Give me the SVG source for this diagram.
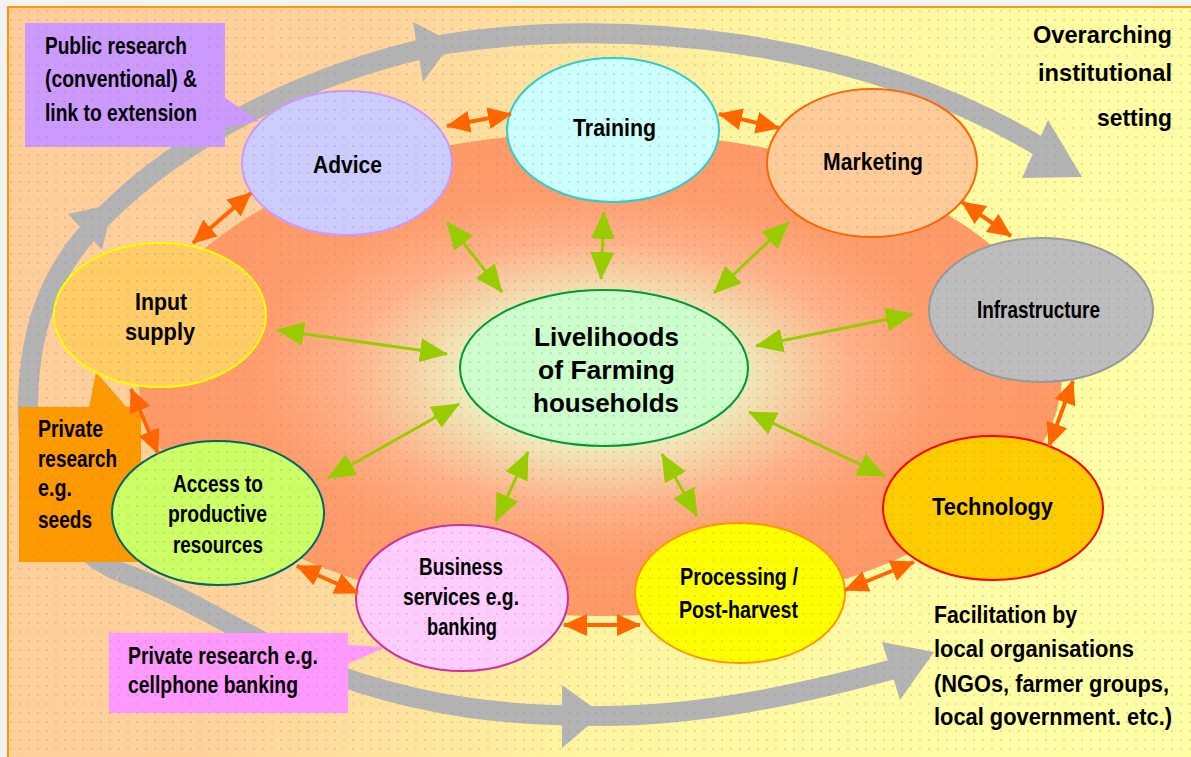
<svg xmlns="http://www.w3.org/2000/svg" width="1191" height="757" viewBox="0 0 1191 757">
<style>
.t{font-family:"Liberation Sans Narrow","Liberation Sans",Arial,sans-serif;font-weight:bold;font-size:24px;fill:#000;}
.m{text-anchor:middle;}
.e{text-anchor:end;}
.c{font-size:26px;}
.s{font-size:23px;}
.band{fill:none;stroke:#b3b3b3;stroke-width:20;}
.bhead{fill:#b3b3b3;}
.ga{stroke:#99cc00;stroke-width:3;fill:none;marker-start:url(#gh);marker-end:url(#gh);}
.oa{stroke:#ff6600;stroke-width:4;fill:none;marker-start:url(#oh);marker-end:url(#oh);}
.node ellipse{stroke-width:2;}
</style>
<defs>
<linearGradient id="bg" x1="0" y1="0" x2="1" y2="0.15">
<stop offset="0" stop-color="#ffcc99"/>
<stop offset="0.3" stop-color="#ffd29c"/>
<stop offset="0.62" stop-color="#fff5a0"/>
<stop offset="1" stop-color="#ffffa6"/>
</linearGradient>
<radialGradient id="core" cx="0.5" cy="0.5" r="0.5">
<stop offset="0" stop-color="#d8ffcc"/>
<stop offset="0.28" stop-color="#eef0c0"/>
<stop offset="0.55" stop-color="#ffb088"/>
<stop offset="0.75" stop-color="#ff9c6c"/>
<stop offset="1" stop-color="#ff9966"/>
</radialGradient>
<pattern id="dots" width="9" height="9" patternUnits="userSpaceOnUse">
<circle cx="2" cy="2" r="0.9" fill="#777" opacity="0.3"/>
</pattern>
<marker id="gh" viewBox="0 0 28 24" markerWidth="28" markerHeight="24" refX="27" refY="12" orient="auto-start-reverse" markerUnits="userSpaceOnUse">
<path d="M0,0 L28,12 L0,24 z" fill="#99cc00"/>
</marker>
<marker id="oh" viewBox="0 0 24 22" markerWidth="24" markerHeight="22" refX="23" refY="11" orient="auto-start-reverse" markerUnits="userSpaceOnUse">
<path d="M0,0 L24,11 L0,22 z" fill="#ff6600"/>
</marker>
</defs>

<rect x="0" y="0" width="1191" height="757" fill="#f2f2f2"/>
<rect x="8" y="7" width="1190" height="760" fill="url(#bg)" stroke="#ff9900" stroke-width="2"/>

<ellipse cx="600" cy="374" rx="462" ry="242" fill="url(#core)"/>

<g id="bands">
<path class="band" d="M120 572 C50 540 25 470 28 400 C30 320 55 262 105 215 C180 140 300 75 440 45 C620 15 870 40 1045 150"/>
<path class="band" d="M120 572 C200 600 260 650 360 683 C430 705 500 716 600 716 C700 716 800 695 905 666"/>
<polygon class="bhead" points="68,214 113,204 102,250"/>
<polygon class="bhead" points="413,22 452,42 423,82"/>
<polygon class="bhead" points="1048,120 1082,177 1022,178"/>
<polygon class="bhead" points="562,685 602,714 562,748"/>
<polygon class="bhead" points="882,642 934,652 900,700"/>
</g>

<g id="callout-public">
<rect x="25" y="23" width="200" height="124" fill="#cc99ff"/>
<polygon points="224,97 259,121 224,128" fill="#cc99ff"/>
</g>
<g id="callout-seeds">
<rect x="19" y="407" width="122" height="155" fill="#ff9900"/>
<polygon points="89,408 96,372 141,424 141,408" fill="#ff9900"/>
</g>
<g id="callout-cellphone">
<rect x="109" y="633" width="239" height="80" fill="#ff99ff"/>
<polygon points="347,645 386,647 347,664" fill="#ff99ff"/>
</g>

<g id="node-advice" class="node"><ellipse cx="347" cy="163" rx="105" ry="72" fill="#ccccff" stroke="#cc99ff"/></g>
<g id="node-training" class="node"><ellipse cx="613" cy="130" rx="106" ry="72" fill="#ccffff" stroke="#33cccc"/></g>
<g id="node-marketing" class="node"><ellipse cx="872" cy="163" rx="105" ry="74" fill="#ffcc99" stroke="#ff6600"/></g>
<g id="node-infrastructure" class="node"><ellipse cx="1041" cy="310" rx="112" ry="72" fill="#bdbdbd" stroke="#999999"/></g>
<g id="node-technology" class="node"><ellipse cx="993" cy="508" rx="110" ry="72" fill="#ffcc00" stroke="#ff0000"/></g>
<g id="node-processing" class="node"><ellipse cx="740" cy="593" rx="105" ry="70" fill="#ffff00" stroke="#ff9900"/></g>
<g id="node-business" class="node"><ellipse cx="462" cy="598" rx="106" ry="73" fill="#ffccff" stroke="#cc3399"/></g>
<g id="node-access" class="node"><ellipse cx="218" cy="513" rx="106" ry="72" fill="#ccff66" stroke="#006666"/></g>
<g id="node-input" class="node"><ellipse cx="160" cy="315" rx="106" ry="72" fill="#ffcc66" stroke="#ffff00"/></g>
<g id="node-livelihoods" class="node"><ellipse cx="604" cy="368" rx="144" ry="78" fill="#ccffcc" stroke="#009933"/></g>

<rect x="8" y="7" width="1183" height="750" fill="url(#dots)"/>

<g id="connectors">
<line class="oa" x1="193" y1="243" x2="251" y2="193"/>
<line class="oa" x1="447" y1="126" x2="511" y2="114"/>
<line class="oa" x1="719" y1="114" x2="779" y2="128"/>
<line class="oa" x1="962" y1="202" x2="1011" y2="236"/>
<line class="oa" x1="1073" y1="381" x2="1049" y2="446"/>
<line class="oa" x1="845" y1="590" x2="914" y2="562"/>
<line class="oa" x1="564" y1="625" x2="640" y2="625"/>
<line class="oa" x1="297" y1="566" x2="358" y2="593"/>
<line class="oa" x1="131" y1="389" x2="158" y2="453"/>
<line class="ga" x1="447" y1="222" x2="502" y2="292"/>
<line class="ga" x1="604" y1="212" x2="601" y2="279"/>
<line class="ga" x1="789" y1="222" x2="714" y2="293"/>
<line class="ga" x1="913" y1="314" x2="756" y2="346"/>
<line class="ga" x1="885" y1="476" x2="749" y2="412"/>
<line class="ga" x1="662" y1="454" x2="697" y2="516"/>
<line class="ga" x1="528" y1="452" x2="496" y2="521"/>
<line class="ga" x1="459" y1="404" x2="328" y2="478"/>
<line class="ga" x1="277" y1="330" x2="447" y2="354"/>
</g>

<g id="labels">
<text class="t m" x="347.5" y="173" textLength="69" lengthAdjust="spacingAndGlyphs">Advice</text>
<text class="t m" x="614.5" y="136" textLength="83" lengthAdjust="spacingAndGlyphs">Training</text>
<text class="t m" x="873" y="170" textLength="100" lengthAdjust="spacingAndGlyphs">Marketing</text>
<text class="t m" x="1038.5" y="318" textLength="123" lengthAdjust="spacingAndGlyphs">Infrastructure</text>
<text class="t m" x="992.5" y="515" textLength="121" lengthAdjust="spacingAndGlyphs">Technology</text>
<text class="t m" x="739" y="585" textLength="118" lengthAdjust="spacingAndGlyphs">Processing /</text>
<text class="t m" x="738.5" y="618" textLength="119" lengthAdjust="spacingAndGlyphs">Post-harvest</text>
<text class="t m" x="461" y="575" textLength="84" lengthAdjust="spacingAndGlyphs">Business</text>
<text class="t m" x="461" y="605" textLength="116" lengthAdjust="spacingAndGlyphs">services e.g.</text>
<text class="t m" x="462" y="635" textLength="70" lengthAdjust="spacingAndGlyphs">banking</text>
<text class="t m" x="218" y="492" textLength="90" lengthAdjust="spacingAndGlyphs">Access to</text>
<text class="t m" x="217.5" y="522" textLength="99" lengthAdjust="spacingAndGlyphs">productive</text>
<text class="t m" x="218" y="553" textLength="90" lengthAdjust="spacingAndGlyphs">resources</text>
<text class="t m" x="161" y="310" textLength="52" lengthAdjust="spacingAndGlyphs">Input</text>
<text class="t m" x="160" y="340" textLength="70" lengthAdjust="spacingAndGlyphs">supply</text>
<text class="t m c" x="606.5" y="346" textLength="145" lengthAdjust="spacingAndGlyphs">Livelihoods</text>
<text class="t m c" x="606.5" y="379" textLength="137" lengthAdjust="spacingAndGlyphs">of Farming</text>
<text class="t m c" x="606" y="412" textLength="146" lengthAdjust="spacingAndGlyphs">households</text>

<text class="t" x="45" y="54" textLength="142" lengthAdjust="spacingAndGlyphs">Public research</text>
<text class="t" x="45" y="87" textLength="152" lengthAdjust="spacingAndGlyphs">(conventional) &amp;</text>
<text class="t" x="45" y="121" textLength="152" lengthAdjust="spacingAndGlyphs">link to extension</text>

<text class="t" x="38" y="437" textLength="65" lengthAdjust="spacingAndGlyphs">Private</text>
<text class="t" x="38" y="467" textLength="79" lengthAdjust="spacingAndGlyphs">research</text>
<text class="t" x="38" y="496" textLength="34" lengthAdjust="spacingAndGlyphs">e.g.</text>
<text class="t" x="38" y="528" textLength="54" lengthAdjust="spacingAndGlyphs">seeds</text>

<text class="t" x="128" y="664" textLength="190" lengthAdjust="spacingAndGlyphs">Private research e.g.</text>
<text class="t" x="128" y="693" textLength="170" lengthAdjust="spacingAndGlyphs">cellphone banking</text>

<text class="t e" x="1172" y="43" font-size="25" textLength="139" lengthAdjust="spacingAndGlyphs">Overarching</text>
<text class="t e" x="1172" y="81" font-size="25" textLength="134" lengthAdjust="spacingAndGlyphs">institutional</text>
<text class="t e" x="1172" y="126" font-size="25" textLength="75" lengthAdjust="spacingAndGlyphs">setting</text>

<text class="t s" x="934" y="623" textLength="143" lengthAdjust="spacingAndGlyphs">Facilitation by</text>
<text class="t s" x="934" y="657" textLength="200" lengthAdjust="spacingAndGlyphs">local organisations</text>
<text class="t s" x="934" y="692" textLength="235" lengthAdjust="spacingAndGlyphs">(NGOs, farmer groups,</text>
<text class="t s" x="934" y="725" textLength="238" lengthAdjust="spacingAndGlyphs">local government. etc.)</text>
</g>
</svg>
